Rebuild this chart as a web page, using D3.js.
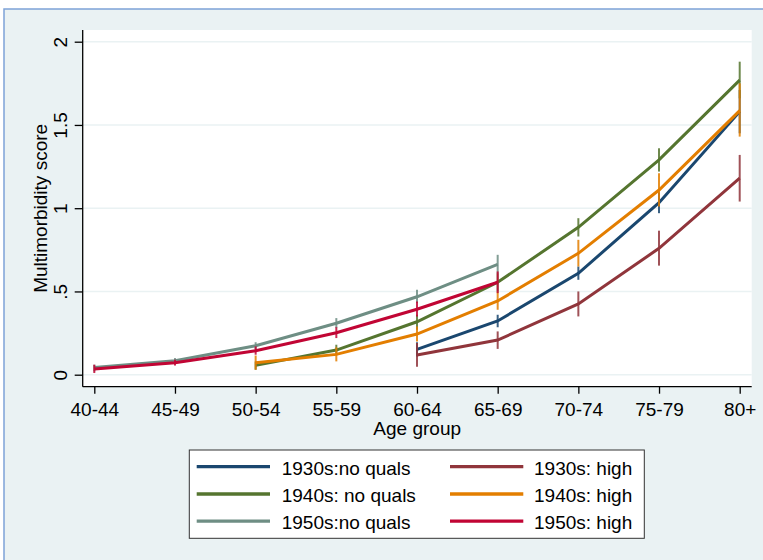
<!DOCTYPE html>
<html>
<head>
<meta charset="utf-8">
<script src="https://cdn.jsdelivr.net/npm/d3@7"></script>
<style>
  body { margin: 0; background: #fff; }
  svg { display: block; }
  text { font-family: "Liberation Sans", Arial, sans-serif; fill: #000; }
</style>
</head>
<body>
<svg width="763" height="560"></svg>
<script>
// age groups on the x axis
var ageGroups = ["40-44", "45-49", "50-54", "55-59", "60-64", "65-69", "70-74", "75-79", "80+"];
var yTicks = [0, 0.5, 1, 1.5, 2];
var yTickLabels = ["0", ".5", "1", "1.5", "2"];

// mean multimorbidity score and CI bounds, per cohort / education
var mean1930nq = [null, null, null, null, 0.152, 0.323, 0.609, 1.033, 1.58];
var lo1930nq   = [null, null, null, null, 0.11, 0.285, 0.57, 0.97, 1.45];
var hi1930nq   = [null, null, null, null, 0.195, 0.36, 0.65, 1.095, 1.71];

var mean1930hi = [null, null, null, null, 0.118, 0.208, 0.425, 0.759, 1.18];
var lo1930hi   = [null, null, null, null, 0.048, 0.155, 0.35, 0.655, 1.04];
var hi1930hi   = [null, null, null, null, 0.19, 0.26, 0.50, 0.865, 1.32];

var mean1940nq = [null, null, 0.056, 0.148, 0.318, 0.555, 0.885, 1.29, 1.769];
var lo1940nq   = [null, null, 0.03, 0.12, 0.27, 0.50, 0.83, 1.22, 1.66];
var hi1940nq   = [null, null, 0.08, 0.18, 0.36, 0.61, 0.94, 1.36, 1.88];

var mean1940hi = [null, null, 0.072, 0.122, 0.244, 0.443, 0.729, 1.109, 1.586];
var lo1940hi   = [null, null, 0.03, 0.08, 0.20, 0.39, 0.65, 1.01, 1.43];
var hi1940hi   = [null, null, 0.115, 0.165, 0.29, 0.50, 0.81, 1.21, 1.75];

var mean1950nq = [0.044, 0.084, 0.174, 0.309, 0.468, 0.663, null, null, null];
var lo1950nq   = [0.02, 0.07, 0.15, 0.28, 0.43, 0.61, null, null, null];
var hi1950nq   = [0.06, 0.10, 0.195, 0.34, 0.51, 0.72, null, null, null];

var mean1950hi = [0.034, 0.072, 0.144, 0.252, 0.393, 0.555, null, null, null];
var lo1950hi   = [0.01, 0.055, 0.12, 0.22, 0.35, 0.49, null, null, null];
var hi1950hi   = [0.06, 0.09, 0.17, 0.285, 0.44, 0.62, null, null, null];

var seriesNames = ["1930s:no quals", "1930s: high", "1940s: no quals", "1940s: high", "1950s:no quals", "1950s: high"];
var seriesColors = ["#1a476f", "#90353b", "#55752f", "#e37e00", "#6e8e84", "#c10534"];

var series = [
  {name: seriesNames[0], color: seriesColors[0], m: mean1930nq, lo: lo1930nq, hi: hi1930nq},
  {name: seriesNames[1], color: seriesColors[1], m: mean1930hi, lo: lo1930hi, hi: hi1930hi},
  {name: seriesNames[2], color: seriesColors[2], m: mean1940nq, lo: lo1940nq, hi: hi1940nq},
  {name: seriesNames[3], color: seriesColors[3], m: mean1940hi, lo: lo1940hi, hi: hi1940hi},
  {name: seriesNames[4], color: seriesColors[4], m: mean1950nq, lo: lo1950nq, hi: hi1950nq},
  {name: seriesNames[5], color: seriesColors[5], m: mean1950hi, lo: lo1950hi, hi: hi1950hi}
];

var svg = d3.select("svg");
var bg = "#eaf2f3";

// outer graph region
svg.append("rect").attr("x", 0).attr("y", 0).attr("width", 763).attr("height", 560).attr("fill", "#fff");
svg.append("rect").attr("x", 4).attr("y", 9).attr("width", 770).attr("height", 560)
   .attr("fill", bg).attr("stroke", "#7ea3d8").attr("stroke-width", 1.5);

var plotL = 82.7, plotR = 751.7, plotT = 30, plotB = 386.7;

var x = d3.scalePoint().domain(ageGroups).range([94.3, 739.7]);
var y = d3.scaleLinear().domain([0, 2]).range([374.7, 41.7]);

// plot region
svg.append("rect").attr("x", plotL).attr("y", plotT)
   .attr("width", plotR - plotL).attr("height", plotB - plotT).attr("fill", "#fff");

// grid
svg.append("g").selectAll("line").data(yTicks).enter().append("line")
   .attr("x1", plotL).attr("x2", plotR)
   .attr("y1", function(d) { return y(d); }).attr("y2", function(d) { return y(d); })
   .attr("stroke", bg).attr("stroke-width", 1.5);

// y axis
var yAxis = d3.axisLeft(y).tickValues(yTicks).tickSize(8)
              .tickFormat(function(d, i) { return yTickLabels[i]; });
var gy = svg.append("g").attr("transform", "translate(" + plotL + ",0)").call(yAxis);
gy.select(".domain").attr("d", "M0," + plotT + "V" + plotB).attr("stroke", "#000").attr("stroke-width", 1.3);
gy.selectAll(".tick line").attr("stroke", "#000").attr("stroke-width", 1.3);
gy.selectAll(".tick text")
  .attr("font-size", 19).attr("x", 0).attr("dy", 0)
  .attr("text-anchor", "middle")
  .attr("transform", "translate(-16,0) rotate(-90)")
  .attr("font-family", "Liberation Sans, Arial, sans-serif");

// x axis
var xAxis = d3.axisBottom(x).tickSize(7).tickPadding(6);
var gx = svg.append("g").attr("transform", "translate(0," + plotB + ")").call(xAxis);
gx.select(".domain").attr("d", "M" + plotL + ",0H" + plotR).attr("stroke", "#000").attr("stroke-width", 1.3);
gx.selectAll(".tick line").attr("stroke", "#000").attr("stroke-width", 1.3);
gx.selectAll(".tick text").attr("font-size", 19).attr("dy", 0).attr("y", 29.5)
  .attr("font-family", "Liberation Sans, Arial, sans-serif");

// axis titles
svg.append("text").attr("x", (plotL + plotR) / 2).attr("y", 434.5)
   .attr("text-anchor", "middle").attr("font-size", 19).text("Age group");
svg.append("text").attr("transform", "translate(46.7," + (plotT + plotB) / 2 + ") rotate(-90)")
   .attr("text-anchor", "middle").attr("font-size", 19).text("Multimorbidity score");

// lines and CI spikes
var line = d3.line()
  .defined(function(d) { return d != null; })
  .x(function(d, i) { return x(ageGroups[i]); })
  .y(function(d) { return y(d); });

series.forEach(function(s) {
  var g = svg.append("g");
  g.append("path").datum(s.m)
   .attr("d", line).attr("fill", "none")
   .attr("stroke", s.color).attr("stroke-width", 3);

  var idx = d3.range(ageGroups.length).filter(function(i) { return s.m[i] != null; });
  g.selectAll("line").data(idx).enter().append("line")
   .attr("x1", function(i) { return x(ageGroups[i]); })
   .attr("x2", function(i) { return x(ageGroups[i]); })
   .attr("y1", function(i) { return y(s.lo[i]); })
   .attr("y2", function(i) { return y(s.hi[i]); })
   .attr("stroke", s.color).attr("stroke-width", 2).attr("opacity", 0.85);
});

// legend
var lg = svg.append("g");
lg.append("rect").attr("x", 189.3).attr("y", 450).attr("width", 455).attr("height", 88.3)
  .attr("fill", "#fff").attr("stroke", "#333").attr("stroke-width", 1);

var colX = [196.7, 450];
var textX = [281.7, 534];
var rowY = [466.7, 494, 521.2];

series.forEach(function(s, i) {
  var c = i % 2, r = Math.floor(i / 2);
  lg.append("line").attr("x1", colX[c]).attr("x2", colX[c] + 73.3)
    .attr("y1", rowY[r]).attr("y2", rowY[r])
    .attr("stroke", s.color).attr("stroke-width", 3.3);
  lg.append("text").attr("x", textX[c]).attr("y", rowY[r] + 8)
    .attr("font-size", 19).text(s.name);
});
</script>
</body>
</html>
